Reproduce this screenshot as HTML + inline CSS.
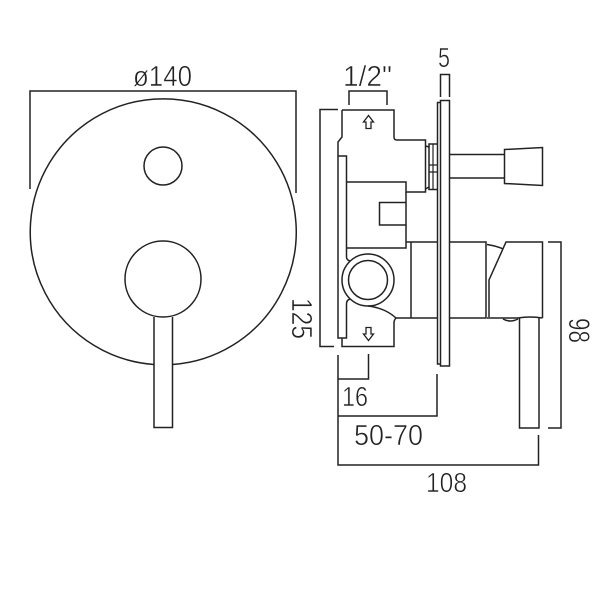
<!DOCTYPE html>
<html>
<head>
<meta charset="utf-8">
<style>
html,body{margin:0;padding:0;background:#fff;width:600px;height:600px;overflow:hidden}
svg{display:block}
text{font-family:"Liberation Sans",sans-serif;fill:#222;stroke:#fff;stroke-width:.55px;paint-order:normal}
</style>
</head>
<body>
<svg width="600" height="600" viewBox="0 0 600 600" xmlns="http://www.w3.org/2000/svg">
<rect width="600" height="600" fill="#fff"/>
<g fill="none" stroke="#222" stroke-width="1.5">
  <!-- front view -->
  <path d="M30 189V91H296V193"/>
  <path d="M154 364.500A133 133 0 1 1 172.500 364.500"/>
  <circle cx="163" cy="166" r="19"/>
  <circle cx="163" cy="279" r="38"/>
  <path d="M154 317V427.500H172.500V317"/>

  <!-- side view dimensions -->
  <path d="M349 105V91H387V105"/>
  <path d="M440.500 97V74.500H449.500V97"/>
  <path d="M338 109.500H320V346.500H334"/>
  <path d="M338 355V465H538.500V435"/>
  <path d="M338 379H368.500V354"/>
  <path d="M338 416H437V374"/>
  <path d="M548 242H561V428H548"/>

  <!-- valve body -->
  <path d="M342 110H394V137Q394 140 397 140H425.500V192H406V182H346.500"/>
  <path d="M342 110V137L338 142V338H346.500V304Q346.500 300 350 299"/>
  <path d="M338 156H346.500V257Q346.500 260 350 261"/>
  <path d="M346.500 248H406V192"/>
  <circle cx="368" cy="280" r="26"/>
  <circle cx="368" cy="280" r="19.500"/>
  <path d="M368 306Q385 308 396 318Q394 320 394 323V346.500H342V338"/>
  <path d="M406 202.500H379.500V225H406"/>
  <path d="M406 242H437M411 242V318M396 318H437"/>

  <!-- fittings -->
  <path d="M425.500 146L429 147V187L425.500 189"/>
  <path d="M429 147V144H437M429 187V189.500H437"/>
  <path d="M433 144V189.500M429 165H437M429 172H437" stroke-width="1.200"/>

  <!-- plate -->
  <path d="M440.500 100.500H449.500V366H440.500ZM440.500 102.500H437.500V364H440.500" />

  <!-- arrows -->
  <path d="M366 128.500V122H363.500L368.500 115.500L373.500 122H371V128.500Z" stroke-width="1.300"/>
  <path d="M366 327.500V334H363.500L368.500 340.500L373.500 334H371V327.500Z" stroke-width="1.300"/>

  <!-- diverter knob -->
  <path d="M450 154.500H504.500M450 178H504.500"/>
  <path d="M504.500 149.500L542.500 147.500V185.500L504.500 183.500Z"/>

  <!-- lever side -->
  <path d="M450 242H486V318H450"/>
  <path d="M487 244.500Q497 246 503 249"/>
  <path d="M489 317V280L506 242H542.500V318"/>
  <path d="M487 318H518Q530 316 542.500 318"/>
  <path d="M503 319Q510 323 518 319"/>
  <path d="M519.500 318V428H539V318"/>
</g>

<text x="133" y="86" font-size="29" textLength="59" lengthAdjust="spacingAndGlyphs">ø140</text>
<text x="343" y="86" font-size="29" textLength="49" lengthAdjust="spacingAndGlyphs">1/2"</text>
<text x="438" y="67" font-size="28" textLength="12" lengthAdjust="spacingAndGlyphs">5</text>
<text x="342" y="406" font-size="28" textLength="26" lengthAdjust="spacingAndGlyphs">16</text>
<text x="354" y="445" font-size="29" textLength="69" lengthAdjust="spacingAndGlyphs">50-70</text>
<text x="426" y="492" font-size="28" textLength="41" lengthAdjust="spacingAndGlyphs">108</text>
<text transform="translate(292 298) rotate(90)" font-size="29" textLength="41" lengthAdjust="spacingAndGlyphs">125</text>
<text transform="translate(569 318) rotate(90)" font-size="30" textLength="25" lengthAdjust="spacingAndGlyphs">98</text>
</svg>
</body>
</html>
